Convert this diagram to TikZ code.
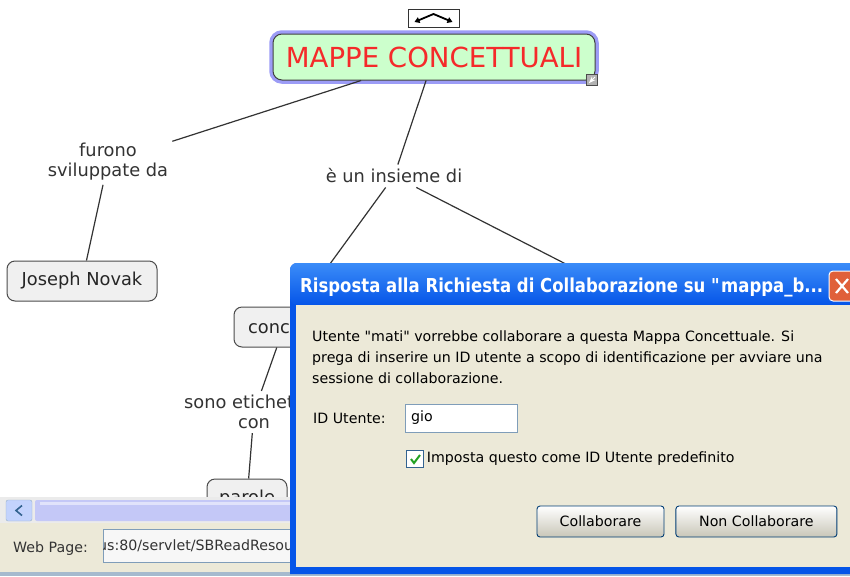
\documentclass[tikz,border=0pt]{standalone}
\usepackage{fontspec}
\setmainfont{DejaVu Sans}
\newfontfamily\titlefont[FakeStretch=0.86]{DejaVu Sans}
\usepackage{xcolor}
\usetikzlibrary{positioning, arrows.meta}

\definecolor{glowblue}{HTML}{9C9CF6}
\definecolor{mapgreen}{HTML}{CCFFCC}
\definecolor{mapred}{HTML}{F52A2A}
\definecolor{xpblue}{HTML}{0555E8}
\definecolor{xptop}{HTML}{3B8CF8}
\definecolor{dlgbeige}{HTML}{ECE9D8}
\definecolor{fieldblue}{HTML}{7F9DB9}
\definecolor{btnblue}{HTML}{003C74}
\definecolor{closered}{HTML}{E0603A}
\definecolor{checkgreen}{HTML}{21A121}
\definecolor{scrolllav}{HTML}{C4C8F7}
\definecolor{scrollbtn}{HTML}{C3D3FD}

\begin{document}
\begin{tikzpicture}[x=1pt, y=-1pt, >=Stealth,
      mainconcept/.style={draw=black!75, line width=1pt, rounded corners=9pt, fill=mapgreen, text=mapred,
        minimum width=322pt, minimum height=46pt, font=\fontsize{27.6}{31}\selectfont,
        preaction={draw=glowblue, line width=7.5pt}},
      concept/.style={draw=black!70, line width=1pt, rounded corners=8pt, fill=black!6, text=black!85,
        minimum height=40pt, inner sep=6pt, font=\fontsize{17.8}{20}\selectfont},
      linkword/.style={align=center, inner sep=4pt, text=black!80, font=\fontsize{17.8}{20}\selectfont},
      link/.style={draw=black!80, line width=1.2pt},
      uitext/.style={font=\fontsize{14.2}{21}\selectfont, text=black},
      pulsante/.style={draw=btnblue, line width=0.9pt, rounded corners=3pt, top color=white, bottom color=dlgbeige!85!black,
        minimum height=31pt, uitext}]
    \useasboundingbox (0,0) rectangle (850,576);
    \fill[white] (0,0) rectangle (850,576);

    % concept map
    \node[draw=black!80, line width=1pt, fill=white, minimum width=51pt, minimum height=18pt, inner sep=0pt] (maniglia) at (433.5,18) {};
    \draw[line width=1.8pt, {Triangle[length=5pt,width=6pt]}-{Triangle[length=5pt,width=6pt]}]
      ([xshift=-19pt,yshift=-4pt]maniglia.center) -- ([yshift=4pt]maniglia.center) -- ([xshift=19pt,yshift=-4pt]maniglia.center);

    \node[mainconcept] (mappe) at (434,57) {MAPPE CONCETTUALI};
    \node[draw=black!70, fill=black!30, minimum size=11pt, inner sep=0pt] (ridimensiona) at (592,80) {};
    \draw[white, line width=0.8pt, ->] ([xshift=3pt,yshift=3pt]ridimensiona.center) -- ([xshift=-3pt,yshift=-3pt]ridimensiona.center);

    \node[linkword] (sviluppo) at (108,162) {furono\\sviluppate da};
    \node[concept, minimum width=150pt] (novak) at (82,281) {Joseph Novak};
    \node[linkword] (insieme) at (394,176) {è un insieme di};
    \node[concept, minimum width=100pt] (concetti) at (284,327) {concetti};
    \coordinate (nascosto) at (640,302);
    \node[linkword] (etiche) at (254,412) {sono etichettati\\con};
    \node[concept, minimum width=80pt] (parole) at (247,499) {parole};

    \draw[link] (mappe) -- (sviluppo);
    \draw[link] (sviluppo) -- (novak);
    \draw[link] (mappe) -- (insieme);
    \draw[link] (insieme) -- (concetti);
    \draw[link] (insieme) -- (nascosto);
    \draw[link] (concetti) -- (etiche);
    \draw[link] (etiche) -- (parole);

    % browser bottom bar
    \fill[black!8] (0,497) rectangle (290,523);
    \fill[scrolllav, rounded corners=2pt] (35,500) rectangle (300,521);
    \fill[white, opacity=0.5] (40,502) rectangle (300,505);
    \node[draw=fieldblue!80, fill=scrollbtn, rounded corners=2pt, minimum width=26pt, minimum height=21pt, inner sep=0pt] (sinistra) at (19,510.5) {};
    \draw[btnblue!80, line width=1.6pt] ([xshift=3pt,yshift=5pt]sinistra.center) -- ([xshift=-3pt]sinistra.center) -- ([xshift=3pt,yshift=-5pt]sinistra.center);
    \fill[dlgbeige] (0,523) rectangle (290,572);
    \node[uitext, anchor=west, inner sep=0pt, text=black!80] (webpage) at (13,549) {Web Page:};
    \node[draw=fieldblue, fill=black!3, anchor=north west, minimum width=200pt, minimum height=33pt, inner sep=0pt] (indirizzo) at (103,529) {};
    \begin{scope}
      \clip (indirizzo.north west) rectangle (indirizzo.south east);
      \node[uitext, anchor=west, inner sep=0pt, text=black!80] (url) at (98,546) {us:80/servlet/SBReadResource};
    \end{scope}
    \fill[fieldblue!70] (0,572) rectangle (850,576);

    % dialog
    \fill[xpblue] (290,574) -- (290,300) {[rounded corners=7pt] -- (290,263) -- (860,263)} -- (860,574) -- cycle;
    \shade[top color=xptop, bottom color=xpblue, rounded corners=7pt] (290,305) -- (290,263) -- (860,263) -- (860,305) -- cycle;
    \fill[dlgbeige] (296,305) rectangle (860,567);
    \node[anchor=west, inner sep=0pt, text=white, font=\titlefont\bfseries\fontsize{19.2}{21}\selectfont] (titolo) at (300,287) {Risposta alla Richiesta di Collaborazione su \textquotedbl mappa\_b...};
    \node[draw=white, line width=1pt, fill=closered, rounded corners=4pt, minimum width=26pt, minimum height=30pt] (chiudi) at (842,286) {};
    \draw[white, line width=2.2pt] ([xshift=-6pt,yshift=-7pt]chiudi.center) -- ([xshift=6pt,yshift=7pt]chiudi.center);
    \draw[white, line width=2.2pt] ([xshift=-6pt,yshift=7pt]chiudi.center) -- ([xshift=6pt,yshift=-7pt]chiudi.center);

    \node[uitext, anchor=west, align=left, inner sep=0pt] (messaggio) at (312,357)
      {Utente \textquotedbl mati\textquotedbl{} vorrebbe collaborare a questa Mappa Concettuale. Si\\
       prega di inserire un ID utente a scopo di identificazione per avviare una\\
       sessione di collaborazione.};
    \node[uitext, anchor=west, inner sep=0pt] (idlabel) at (313,418) {ID Utente:};
    \node[uitext, draw=fieldblue, fill=white, anchor=west, minimum width=112pt, minimum height=28pt,
      text width=100pt, align=left, inner sep=6pt] (campo) at (405,418) {gio};
    \node[draw=btnblue!80, fill=white, minimum size=17pt, inner sep=0pt] (spunta) at (415,459) {};
    \draw[checkgreen, line width=2pt] ([xshift=-4pt]spunta.center) -- ([xshift=-1pt,yshift=-4pt]spunta.center) -- ([xshift=5pt,yshift=4pt]spunta.center);
    \node[uitext, right=3pt of spunta, inner sep=0pt] (predefinito) {Imposta questo come ID Utente predefinito};
    \node[pulsante, minimum width=127pt] (collabora) at (600.5,521.5) {Collaborare};
    \node[pulsante, minimum width=161pt, right=11pt of collabora] (rifiuta) {Non Collaborare};
  \end{tikzpicture}
\end{document}
